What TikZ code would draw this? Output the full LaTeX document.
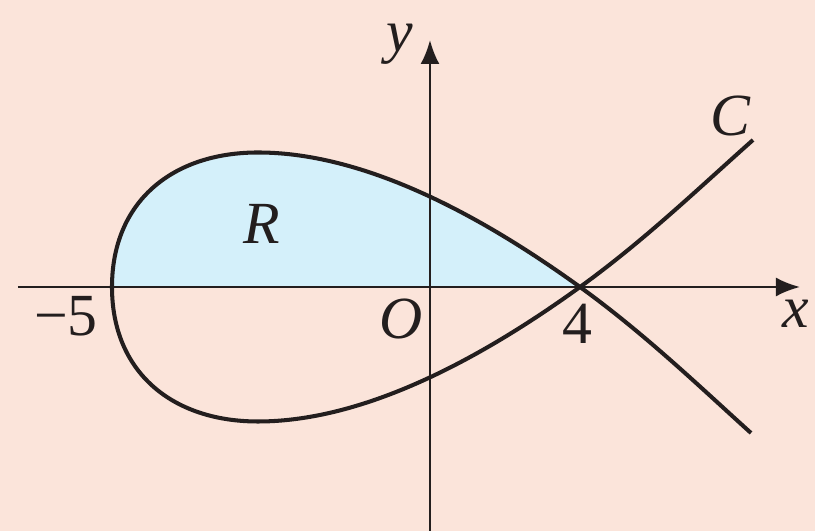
\documentclass[tikz,border=0pt]{standalone}
\usepackage{fontspec}
\setmainfont{Liberation Serif}
\usetikzlibrary{arrows.meta}
\definecolor{paper}{RGB}{251,228,218}
\definecolor{regionblue}{RGB}{212,240,250}
\definecolor{ink}{RGB}{35,30,30}

\begin{document}
\begin{tikzpicture}[x = 0.01cm, y = 0.01cm,
         axis/.style={-{Latex[length=2.4mm,width=1.9mm]},ink,line width=0.7pt},
         curve/.style={ink,line width=1.15pt},
         region/.style={fill=regionblue},
         label/.style={font=\fontsize{17}{19}\selectfont,text=ink,inner sep=0pt}
      ]
   \fill[paper] (-430,-244) rectangle (385,287);
   \useasboundingbox (-430,-244) rectangle (385,287);

   \coordinate (left) at (-318, 0);
   \coordinate (top) at (-172, 134.5);
   \coordinate (bot) at (-172, -134.5);
   \coordinate (cross) at (150, 0);
   \coordinate (endup) at (323, 147);
   \coordinate (enddown) at (321, -146);

   \coordinate (xstart) at (-412, 0);
   \coordinate (xend) at (370, 0);
   \coordinate (ystart) at (0, -244);
   \coordinate (yend) at (0, 247);

   % shaded part of the loop
   \fill[region] (left) .. controls (-318, 85) and (-258, 134.5) .. (top)
      .. controls (-60, 134.5) and (60, 65) .. (cross) -- cycle;

   \begin{scope}[axis]
      \draw (xstart) -- (xend);
      \draw (ystart) -- (yend);
   \end{scope}

   \begin{scope}[curve]
      \draw (left) .. controls (-318, 85) and (-258, 134.5) .. (top)
         .. controls (-60, 134.5) and (60, 65) .. (cross)
         .. controls (215, -47) and (270, -100) .. (enddown);
      \draw (endup) .. controls (270, 100) and (215, 47) .. (cross)
         .. controls (60, -65) and (-60, -134.5) .. (bot)
         .. controls (-258, -134.5) and (-318, -85) .. (left);
   \end{scope}

   \node[label] (yL) at (-30, 243) {\textit{y}};
   \node[label] (xL) at (366, -27) {\textit{x}};
   \node[label] (CL) at (301, 171) {\textit{C}};
   \node[label] (RL) at (-168, 63) {\textit{R}};
   \node[label] (OL) at (-29, -32) {\textit{O}};
   \node[label] (fourL) at (147, -37) {4};
   \node[label] (minusfiveL) at (-364, -29) {−5};
\end{tikzpicture}
\end{document}
